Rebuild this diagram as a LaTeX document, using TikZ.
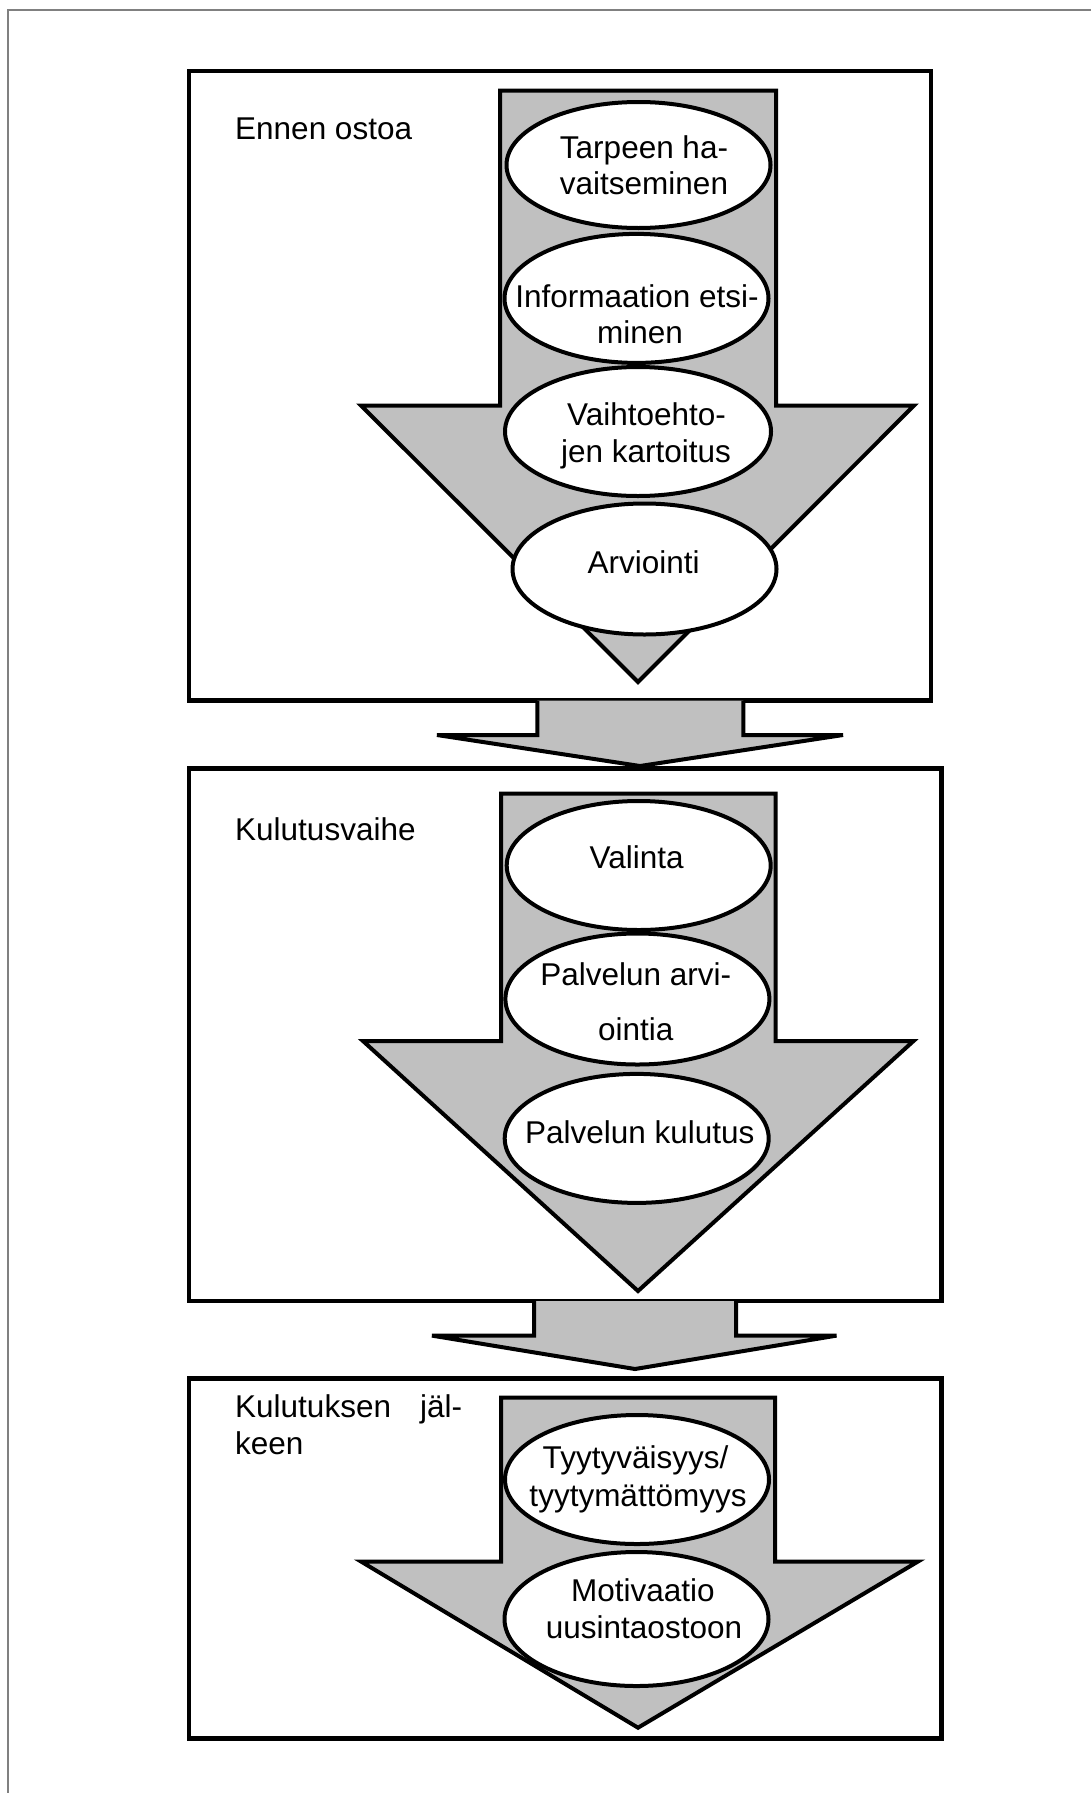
\documentclass[tikz,border=0pt]{standalone}
\usepackage{fontspec}
\setmainfont{Liberation Sans}
\usetikzlibrary{shapes.geometric}
\definecolor{arrowfill}{RGB}{192,192,192}
\definecolor{edgegray}{RGB}{128,128,128}
\begin{document}
\begin{tikzpicture}[x=1pt,y=-1pt,
  phasebox/.style={draw=black,line width=4.5pt,fill=white},
  flowarrow/.style={draw=black,line width=4pt,fill=arrowfill,line join=miter},
  stage/.style={ellipse,draw=black,line width=4pt,fill=white,inner sep=0pt,
                minimum width=264pt,minimum height=129pt},
  lbl/.style={inner sep=0pt,font=\fontsize{31.5}{37}\selectfont},
]
\useasboundingbox (0,0) rectangle (1091,1793);
% page edge
\draw[edgegray,line width=1.5pt] (8,1793) -- (8,10) -- (1091,10);

% the three phases
\draw[phasebox] (189,71) rectangle (931,700.5);
\draw[phasebox] (189,768.7) rectangle (941.5,1301);
\draw[phasebox] (189,1378.3) rectangle (941.5,1738.3);

% arrows between the phases
\draw[flowarrow] (537.3,700.5) -- (537.3,735) -- (437,735) -- (640,766)
  -- (843,735) -- (743.3,735) -- (743.3,700.5);
\draw[flowarrow] (534,1301) -- (534,1335.6) -- (432,1335.6) -- (635,1369)
  -- (836.5,1335.6) -- (736,1335.6) -- (736,1301);

% large arrows inside the phases
\draw[flowarrow] (500,90.5) -- (776,90.5) -- (776,405.5) -- (914,405.5)
  -- (638,682) -- (361,405.5) -- (500,405.5) -- cycle;
\draw[flowarrow] (501,793.7) -- (775.7,793.7) -- (775.7,1041) -- (913.5,1041)
  -- (638,1291) -- (363,1041) -- (501,1041) -- cycle;
\draw[flowarrow] (501,1397.5) -- (775,1397.5) -- (775,1561.5) -- (918,1561.5)
  -- (638,1727.7) -- (361,1561.5) -- (501,1561.5) -- cycle;

% steps
\node[stage,minimum height=126pt] (tarve) at (638.5,165) {};
\node[stage] (info) at (636.5,298.4) {};
\node[stage,minimum width=266pt] (vaiht) at (638,431.5) {};
\node[stage,minimum height=131pt] (arvio) at (644.5,569) {};
\node[stage] (valinta) at (638.7,865.5) {};
\node[stage,minimum height=131pt] (parvio) at (637.4,999) {};
\node[stage] (kulutus) at (636.7,1138.4) {};
\node[stage] (tyyty) at (637,1479.5) {};
\node[stage,minimum height=134pt] (motiv) at (636.5,1619) {};

% phase titles
\node[lbl,anchor=base west] (p1) at (235,139) {Ennen ostoa};
\node[lbl,anchor=base west] (p2) at (235,840) {Kulutusvaihe};
\node[lbl,anchor=base west] (p3a) at (235,1417) {\hbox to 227pt{Kulutuksen\hfill jäl-}};
\node[lbl,anchor=base west] (p3b) at (235,1454) {keen};

% step texts
\node[lbl,anchor=base] (t1a) at (644,158) {Tarpeen ha-};
\node[lbl,anchor=base] (t1b) at (644,194) {vaitseminen};
\node[lbl,anchor=base] (t2a) at (637,307) {Informaation etsi-};
\node[lbl,anchor=base] (t2b) at (640,343) {minen};
\node[lbl,anchor=base] (t3a) at (646.5,425) {Vaihtoehto-};
\node[lbl,anchor=base] (t3b) at (646,462) {jen kartoitus};
\node[lbl,anchor=base] (t4) at (643.7,573) {Arviointi};
\node[lbl,anchor=base] (t5) at (636.7,868) {Valinta};
\node[lbl,anchor=base] (t6a) at (635.8,985) {Palvelun arvi-};
\node[lbl,anchor=base] (t6b) at (635.8,1040) {ointia};
\node[lbl,anchor=base] (t7) at (639.7,1143) {Palvelun kulutus};
\node[lbl,anchor=base] (t8a) at (635.5,1468) {Tyytyväisyys/};
\node[lbl,anchor=base] (t8b) at (638,1506) {tyytymättömyys};
\node[lbl,anchor=base] (t9a) at (642.8,1601) {Motivaatio};
\node[lbl,anchor=base] (t9b) at (644,1638) {uusintaostoon};
\end{tikzpicture}
\end{document}
